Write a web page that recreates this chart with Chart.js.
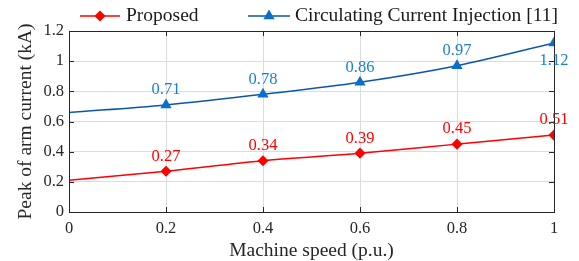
<!DOCTYPE html>
<html>
<head>
<meta charset="utf-8">
<script src="https://cdn.jsdelivr.net/npm/chart.js@4"></script>
<style>
  body { margin: 0; background: #fff; }
  #wrap { width: 579px; height: 261px; }
</style>
</head>
<body>
<div id="wrap"><canvas id="myChart" width="579" height="261"></canvas></div>
<script>
// machine speed (p.u.)
let speeds = [0, 0.2, 0.4, 0.6, 0.8, 1];
// peak arm current (kA)
let proposed = [0.21, 0.27, 0.34, 0.39, 0.45, 0.51];
let circulating = [0.66, 0.71, 0.78, 0.86, 0.97, 1.12];
let xTicks = [0, 0.2, 0.4, 0.6, 0.8, 1];
let yTicks = [0, 0.2, 0.4, 0.6, 0.8, 1, 1.2];

let redColor = '#ff0000';
let blueLine = '#0b55b0';
let blueMark = '#0a6fcc';
let blueText = '#1a7fd0';
let serif = '"Liberation Serif", "Times New Roman", serif';

function toPoints(vals) {
    return vals.map((v, i) => ({x: speeds[i], y: v}));
}

// first point of each line has no marker
let markerSizes = (r) => speeds.map((s, i) => i === 0 ? 0 : r);

const extras = {
    id: 'extras',
    afterDatasetsDraw(chart) {
        const ctx = chart.ctx;
        const area = chart.chartArea;
        // frame with inward ticks
        ctx.save();
        ctx.strokeStyle = '#262626';
        ctx.lineWidth = 1;
        ctx.strokeRect(area.left + 0.5, area.top + 0.5, area.right - area.left, area.bottom - area.top);
        const xs = chart.scales.x, ys = chart.scales.y;
        ctx.beginPath();
        xTicks.forEach(t => {
            const px = Math.round(xs.getPixelForValue(t)) + 0.5;
            ctx.moveTo(px, area.bottom); ctx.lineTo(px, area.bottom - 5);
            ctx.moveTo(px, area.top); ctx.lineTo(px, area.top + 5);
        });
        yTicks.forEach(t => {
            const py = Math.round(ys.getPixelForValue(t)) + 0.5;
            ctx.moveTo(area.left, py); ctx.lineTo(area.left + 5, py);
            ctx.moveTo(area.right, py); ctx.lineTo(area.right - 5, py);
        });
        ctx.stroke();

        // value labels
        ctx.font = '16.5px ' + serif;
        ctx.textAlign = 'center';
        ctx.textBaseline = 'middle';
        chart.data.datasets.forEach((ds, di) => {
            const meta = chart.getDatasetMeta(di);
            meta.data.forEach((pt, i) => {
                if (i === 0) return;
                const v = ds.data[i].y;
                let below = (di === 1 && i === meta.data.length - 1);
                ctx.fillStyle = di === 0 ? redColor : blueText;
                ctx.fillText(v.toFixed(2), pt.x, below ? pt.y + 18 : pt.y - 15);
            });
        });

        // legend
        ctx.font = '19.5px ' + serif;
        ctx.textAlign = 'left';
        const ly = 16;
        const items = [
            {x1: 80, x2: 120, color: redColor, mark: redColor, style: 'rectRot', r: 4.5, text: 'Proposed', tx: 126},
            {x1: 248, x2: 290, color: blueLine, mark: blueMark, style: 'triangle', r: 5, text: 'Circulating Current Injection [11]', tx: 295}
        ];
        items.forEach(it => {
            ctx.strokeStyle = it.color;
            ctx.lineWidth = 1.5;
            ctx.beginPath(); ctx.moveTo(it.x1, ly); ctx.lineTo(it.x2, ly); ctx.stroke();
            ctx.fillStyle = it.mark;
            ctx.strokeStyle = it.mark;
            Chart.helpers.drawPoint(ctx, {pointStyle: it.style, radius: it.r, borderWidth: 1}, (it.x1 + it.x2) / 2, ly);
            ctx.fillStyle = '#1a1a1a';
            ctx.fillText(it.text, it.tx, ly);
        });
        ctx.restore();
    }
};

function makeChart() {
    let myChart = document.getElementById('myChart').getContext('2d');
    new Chart(myChart, {
        type: 'line',
        data: {
            datasets: [
                {
                    label: 'Proposed',
                    data: toPoints(proposed),
                    borderColor: redColor,
                    backgroundColor: redColor,
                    borderWidth: 1.5,
                    pointStyle: 'rectRot',
                    pointRadius: markerSizes(4.5),
                    pointBackgroundColor: redColor,
                    pointBorderColor: redColor,
                    cubicInterpolationMode: 'monotone'
                },
                {
                    label: 'Circulating Current Injection [11]',
                    data: toPoints(circulating),
                    borderColor: blueLine,
                    backgroundColor: blueMark,
                    borderWidth: 1.5,
                    pointStyle: 'triangle',
                    pointRadius: markerSizes(5),
                    pointBackgroundColor: blueMark,
                    pointBorderColor: blueMark,
                    cubicInterpolationMode: 'monotone'
                }
            ]
        },
        options: {
            responsive: false,
            animation: false,
            layout: {padding: {top: 31, right: 25, left: 14, bottom: 0}},
            plugins: {legend: {display: false}, tooltip: {enabled: false}},
            scales: {
                x: {
                    type: 'linear',
                    min: 0, max: 1,
                    afterBuildTicks: (s) => { s.ticks = xTicks.map(v => ({value: v})); },
                    afterFit: (s) => { s.height = 49; },
                    grid: {color: '#dcdcdc', drawTicks: false},
                    border: {display: false},
                    ticks: {
                        color: '#262626', padding: 7,
                        font: {family: serif, size: 16.5},
                        callback: (v) => String(v)
                    },
                    title: {
                        display: true, text: 'Machine speed (p.u.)', color: '#262626',
                        font: {family: serif, size: 19.5, lineHeight: 1}, padding: {top: 0, bottom: 0}
                    }
                },
                y: {
                    min: 0, max: 1.2,
                    afterBuildTicks: (s) => { s.ticks = yTicks.map(v => ({value: v})); },
                    afterFit: (s) => { s.width = 55; },
                    grid: {color: '#dcdcdc', drawTicks: false},
                    border: {display: false},
                    ticks: {
                        color: '#262626', padding: 5,
                        font: {family: serif, size: 16.5},
                        callback: (v) => String(Math.round(v * 10) / 10)
                    },
                    title: {
                        display: true, text: 'Peak of arm current (kA)', color: '#262626',
                        font: {family: serif, size: 19.5}, padding: {top: 0, bottom: 0}
                    }
                }
            }
        },
        plugins: [extras]
    });
}

makeChart();
</script>
</body>
</html>
